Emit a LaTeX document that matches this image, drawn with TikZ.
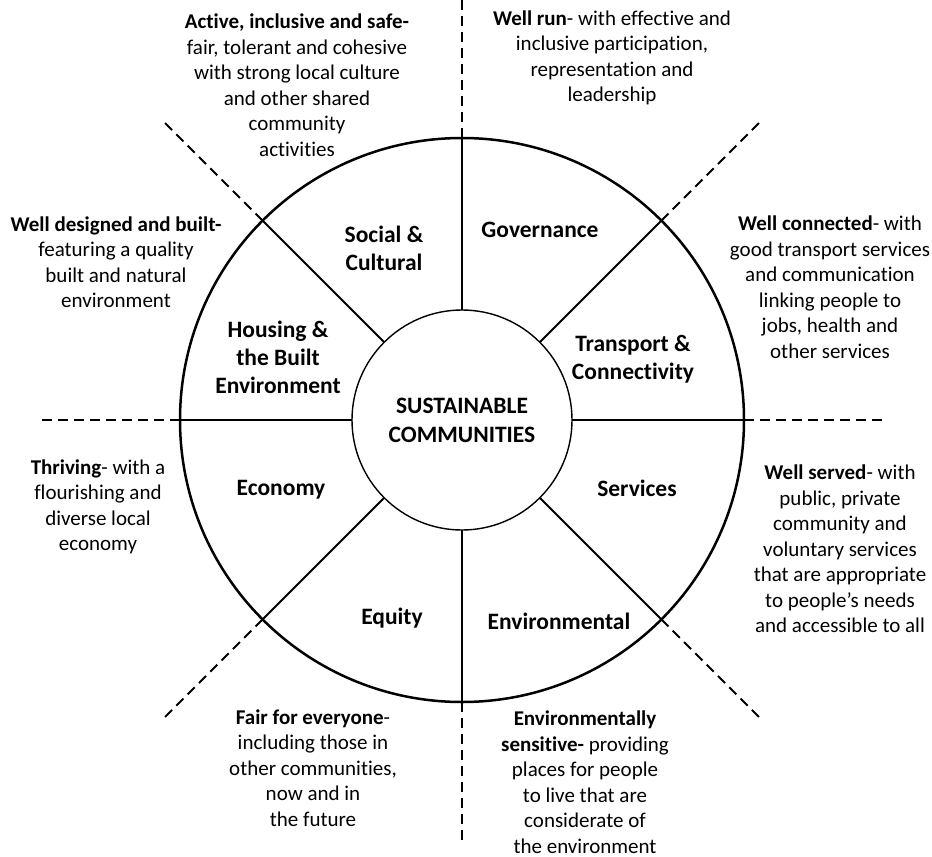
\documentclass[tikz,border=0pt]{standalone}
\usepackage{fontspec}
\setmainfont{Carlito}[Ligatures=NoCommon]
\begin{document}
\begin{tikzpicture}[x=1pt,y=-1pt,
  desc/.style={align=center,inner sep=0pt,font=\fontsize{21}{25.5}\selectfont},
  lab/.style={align=center,inner sep=0pt,font=\fontsize{23.5}{28}\selectfont\bfseries},
  spoke/.style={line width=2pt},
  dashline/.style={line width=2pt,dash pattern=on 10pt off 6pt}]
\useasboundingbox[fill=white] (0,0) rectangle (932,857);
\coordinate (c) at (462,420);
\node[circle,draw,line width=2.5pt,minimum size=564pt,inner sep=0pt,outer sep=0pt] (outer) at (c) {};
\node[circle,draw,line width=1.4pt,minimum size=220pt,inner sep=0pt,outer sep=0pt,
  font=\fontsize{23.5}{29}\selectfont\bfseries,align=center] (inner) at (c) {SUSTAINABLE\\COMMUNITIES};
\foreach \a in {0,45,...,315}{
  \coordinate (d\a) at ([shift={(\a:420pt)}]c);
  \draw[spoke] (inner.\a) -- (outer.\a);
  \draw[dashline] (outer.\a) -- (d\a);
}
% sector labels
\node[lab] (soc) at (384,248) {Social \&\\Cultural};
\node[lab] (gov) at (540,230) {Governance};
\node[lab] (hou) at (278,357) {Housing \&\\the Built\\Environment};
\node[lab] (tra) at (633,359) {Transport \&\\Connectivity};
\node[lab] (eco) at (281,490) {Economy};
\node[lab] (ser) at (637,488) {Services};
\node[lab] (equ) at (392,618) {Equity};
\node[lab] (env) at (559,621) {Environmental};
% descriptions
\node[desc] (t1) at (297,85) {\textbf{Active, inclusive and safe-}\\fair, tolerant and cohesive\\with strong local culture\\and other shared\\community\\activities};
\node[desc] (t2) at (612,58) {\textbf{Well run}- with effective and\\inclusive participation,\\representation and\\leadership};
\node[desc] (t3) at (116,262) {\textbf{Well designed and built-}\\featuring a quality\\built and natural\\environment};
\node[desc] (t4) at (830,287) {\textbf{Well connected}- with\\good transport services\\and communication\\linking people to\\jobs, health and\\other services};
\node[desc] (t5) at (98,507) {\textbf{Thriving}- with a\\flourishing and\\diverse local\\economy};
\node[desc] (t6) at (840,549) {\textbf{Well served}- with\\public, private\\community and\\voluntary services\\that are appropriate\\to people’s needs\\and accessible to all};
\node[desc] (t7) at (313,768) {\textbf{Fair for everyone}-\\including those in\\other communities,\\now and in\\the future};
\node[desc] (t8) at (585,782) {\textbf{Environmentally}\\\textbf{sensitive-} providing\\places for people\\to live that are\\considerate of\\the environment};
\end{tikzpicture}
\end{document}
